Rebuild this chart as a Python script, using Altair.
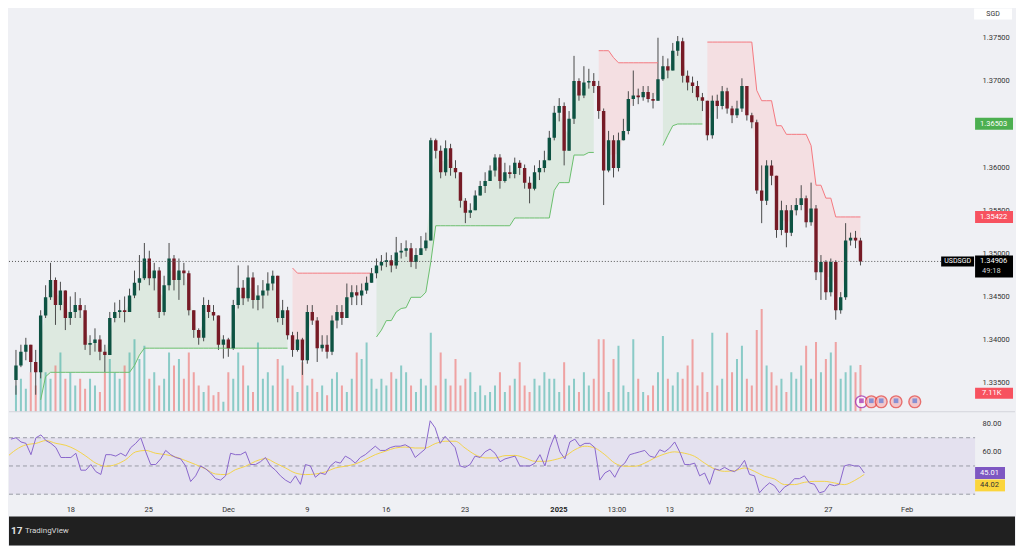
import altair as alt
import pandas as pd

# ---------------- data ----------------
FIRST_OPEN = 1.3353
CLOSE = [
    1.3370, 1.3386, 1.3394, 1.3374, 1.3362, 1.3428, 1.3449, 1.3469, 1.3440, 1.3457,
    1.3425, 1.3432, 1.3440, 1.3434, 1.3394, 1.3396, 1.3400, 1.3386, 1.3382, 1.3425,
    1.3432, 1.3434, 1.3432, 1.3451, 1.3466, 1.3471, 1.3494, 1.3471, 1.3480, 1.3432,
    1.3463, 1.3494, 1.3469, 1.3480, 1.3477, 1.3434, 1.3411, 1.3402, 1.3440, 1.3432,
    1.3428, 1.3394, 1.3400, 1.3390, 1.3440, 1.3460, 1.3448, 1.3472, 1.3446, 1.3451,
    1.3457, 1.3465, 1.3474, 1.3425, 1.3434, 1.3405, 1.3388, 1.3400, 1.3376, 1.3432,
    1.3422, 1.3390, 1.3394, 1.3386, 1.3422, 1.3432, 1.3425, 1.3449, 1.3455, 1.3451,
    1.3457, 1.3466, 1.3477, 1.3486, 1.3490, 1.3492, 1.3486, 1.3501, 1.3503, 1.3506,
    1.3490, 1.3498, 1.3506, 1.3515, 1.3631, 1.3619, 1.3594, 1.3622, 1.3599, 1.3594,
    1.3561, 1.3547, 1.3550, 1.3567, 1.3578, 1.3584, 1.3596, 1.3611, 1.3584, 1.3594,
    1.3592, 1.3605, 1.3599, 1.3582, 1.3575, 1.3594, 1.3599, 1.3608, 1.3634, 1.3663,
    1.3671, 1.3619, 1.3656, 1.3700, 1.3683, 1.3698, 1.3700, 1.3694, 1.3665, 1.3596,
    1.3631, 1.3599, 1.3631, 1.3642, 1.3679, 1.3683, 1.3681, 1.3687, 1.3679, 1.3677,
    1.3702, 1.3717, 1.3712, 1.3735, 1.3746, 1.3706, 1.3698, 1.3694, 1.3681, 1.3677,
    1.3637, 1.3677, 1.3671, 1.3688, 1.3668, 1.3660, 1.3668, 1.3694, 1.3660, 1.3652,
    1.3573, 1.3561, 1.3602, 1.3590, 1.3527, 1.3550, 1.3524, 1.3550, 1.3556, 1.3564,
    1.3536, 1.3552, 1.3478, 1.3490, 1.3455, 1.3490, 1.3434, 1.3449, 1.3515, 1.3518,
    1.3515, 1.34906,
]
HIGH = [
    1.3388, 1.3394, 1.3402, 1.3394, 1.3388, 1.3434, 1.3463, 1.3489, 1.3472, 1.3467,
    1.3457, 1.3450, 1.3455, 1.3448, 1.3440, 1.3405, 1.3413, 1.3405, 1.3394, 1.3432,
    1.3443, 1.3446, 1.3450, 1.3459, 1.3480, 1.3498, 1.3512, 1.3503, 1.3489, 1.3484,
    1.3474, 1.3512, 1.3498, 1.3494, 1.3489, 1.3480, 1.3434, 1.3413, 1.3449, 1.3446,
    1.3440, 1.3428, 1.3405, 1.3402, 1.3446, 1.3486, 1.3469, 1.3486, 1.3478, 1.3463,
    1.3469, 1.3478, 1.3480, 1.3474, 1.3446, 1.3438, 1.3409, 1.3409, 1.3402, 1.3440,
    1.3440, 1.3426, 1.3405, 1.3405, 1.3428, 1.3440, 1.3440, 1.3465, 1.3463, 1.3463,
    1.3465, 1.3473, 1.3483, 1.3494, 1.3498, 1.3501, 1.3498, 1.3519, 1.3512, 1.3515,
    1.3512, 1.3506, 1.3520, 1.3524, 1.3634, 1.3633, 1.3625, 1.3631, 1.3627, 1.3608,
    1.3594, 1.3564, 1.3558, 1.3573, 1.3584, 1.3594, 1.3602, 1.3615, 1.3615, 1.3605,
    1.3602, 1.3611, 1.3608, 1.3603, 1.3589, 1.3602, 1.3608, 1.3619, 1.3642, 1.3671,
    1.3680, 1.3675, 1.3665, 1.3729, 1.3703, 1.3717, 1.3714, 1.3709, 1.3700, 1.3668,
    1.3642, 1.3637, 1.3640, 1.3656, 1.3688, 1.3712, 1.3691, 1.3694, 1.3694, 1.3686,
    1.3750, 1.3729, 1.3726, 1.3744, 1.3752, 1.3750, 1.3712, 1.3705, 1.3700, 1.3686,
    1.3677, 1.3683, 1.3684, 1.3694, 1.3692, 1.3671, 1.3677, 1.3703, 1.3694, 1.3663,
    1.3655, 1.3602, 1.3608, 1.3608, 1.3590, 1.3561, 1.3556, 1.3556, 1.3564, 1.3579,
    1.3567, 1.3582, 1.3556, 1.3498, 1.3492, 1.3494, 1.3492, 1.3455, 1.3535, 1.3524,
    1.3526, 1.3518,
]
LOW = [
    1.3336, 1.3368, 1.3376, 1.3362, 1.3336, 1.3355, 1.3425, 1.3446, 1.3417, 1.3434,
    1.3411, 1.3417, 1.3425, 1.3425, 1.3388, 1.3382, 1.3386, 1.3376, 1.3362, 1.3382,
    1.3420, 1.3425, 1.3420, 1.3432, 1.3448, 1.3457, 1.3469, 1.3463, 1.3457, 1.3425,
    1.3428, 1.3457, 1.3457, 1.3446, 1.3463, 1.3428, 1.3402, 1.3394, 1.3398, 1.3425,
    1.3422, 1.3388, 1.3378, 1.3380, 1.3388, 1.3436, 1.3440, 1.3444, 1.3436, 1.3434,
    1.3436, 1.3451, 1.3457, 1.3420, 1.3417, 1.3400, 1.3380, 1.3386, 1.3359, 1.3372,
    1.3417, 1.3374, 1.3386, 1.3378, 1.3382, 1.3413, 1.3417, 1.3425, 1.3440, 1.3440,
    1.3440, 1.3453, 1.3466, 1.3471, 1.3480, 1.3484, 1.3478, 1.3482, 1.3494, 1.3496,
    1.3484, 1.3482, 1.3498, 1.3503, 1.3515, 1.3610, 1.3587, 1.3590, 1.3590, 1.3587,
    1.3553, 1.3535, 1.3541, 1.3550, 1.3567, 1.3570, 1.3584, 1.3589, 1.3575, 1.3582,
    1.3587, 1.3587, 1.3591, 1.3575, 1.3558, 1.3573, 1.3585, 1.3594, 1.3608, 1.3631,
    1.3653, 1.3602, 1.3619, 1.3650, 1.3677, 1.3680, 1.3691, 1.3686, 1.3656, 1.3556,
    1.3594, 1.3588, 1.3595, 1.3631, 1.3638, 1.3671, 1.3673, 1.3677, 1.3675, 1.3668,
    1.3677, 1.3700, 1.3703, 1.3712, 1.3729, 1.3698, 1.3689, 1.3686, 1.3677, 1.3665,
    1.3631, 1.3633, 1.3656, 1.3667, 1.3662, 1.3651, 1.3657, 1.3664, 1.3654, 1.3645,
    1.3569, 1.3535, 1.3556, 1.3579, 1.3518, 1.3521, 1.3507, 1.3520, 1.3544, 1.3550,
    1.3530, 1.3532, 1.3469, 1.3446, 1.3446, 1.3450, 1.3423, 1.3430, 1.3446, 1.3509,
    1.3506, 1.3486,
]
VOLUME_K = [
    4, 5, 3.5, 6, 4, 8, 6, 5, 7, 9,
    5, 6, 4, 5, 3.5, 5, 4, 3, 6, 8,
    6, 5, 7, 9, 11, 8, 10, 5, 6, 4,
    5, 9, 7, 8, 5, 9, 6, 4, 3, 4,
    2.5, 3, 1.5, 6, 5, 9, 7, 4, 3, 10.5,
    5, 6, 4, 8, 7, 5, 4, 3, 7.5, 4,
    5, 3, 4, 2.5, 5, 6, 4, 3, 5, 9,
    8, 10.5, 5, 3.5, 5, 4, 6, 5, 7, 6,
    4, 3, 5, 4, 12, 4, 9, 5, 4, 8,
    4, 5, 6, 3, 4, 2.5, 3, 4, 6, 3,
    4, 5, 7.5, 4, 3, 5, 4, 6, 5, 5,
    3, 7.5, 4, 5, 3, 6, 4, 5, 11, 11,
    3, 8, 10, 4, 3, 11, 5, 3, 2.5, 4,
    6, 11.5, 5, 4, 6, 5, 7, 11, 4, 6,
    3, 12, 4, 5, 12, 6, 8, 10, 5, 4,
    12.4, 15.6, 7, 6, 4, 5, 3, 6, 5, 7,
    10, 5, 10.6, 6, 8, 9, 10.6, 5, 6, 7,
    6, 7.11,
]
ST_GREEN = ([None] * 5 + [1.3330, 1.3357] + [1.3362] * 17 + [1.3370, 1.3382] + [1.3390] * 30
            + [None] * 17
            + [1.3403, 1.3411, 1.3422, 1.3422, 1.3432, 1.3436, 1.3437, 1.3449, 1.3449, 1.3449,
               1.3455, 1.3490, 1.3532] + [1.3532] * 15 + [1.3541] * 8 + [1.3573] + [1.3582] * 3
            + [1.3614] * 3 + [1.3617] * 2
            + [None] * 13
            + [1.3625, 1.3637, 1.3648] + [1.3650] * 6
            + [None] * 32)
ST_RED = ([None] * 56 + [1.3483] + [1.3477] * 16
          + [None] * 45
          + [1.3735] * 3 + [1.3727] + [1.3721] * 9
          + [None] * 9
          + [1.3745] * 10 + [1.3689] + [1.3677] * 3 + [1.3648] * 2 + [1.3638] * 5 + [1.3625]
          + [1.3579] * 2 + [1.3564] * 2 + [1.35422] * 6)
RSI = [
    69, 70, 67, 66, 58, 70, 72, 68, 66, 63,
    56, 56, 56, 59, 47, 47, 51, 46, 44, 58,
    58, 57, 59, 57, 63, 66, 70, 60, 51, 51,
    55, 61, 58, 56, 55, 50, 39, 43, 50, 48,
    45, 41, 40, 43, 59, 58, 58, 60, 51, 51,
    53, 56, 50, 47, 43, 40, 38, 43, 37, 51,
    50, 42, 45, 44, 50, 53, 52, 57, 55, 52,
    56, 58, 61, 64, 61, 61, 63, 64, 64, 65,
    63, 56, 59, 62, 82, 77, 66, 71, 67, 63,
    50, 49, 51, 57, 56, 60, 62, 59, 53, 55,
    56, 57, 50, 50, 50, 52, 58, 50, 63, 72,
    60, 55, 67, 69, 64, 66, 66, 63, 40, 45,
    47, 42, 49, 52, 58, 59, 60, 61, 57, 56,
    61.5, 60, 62.7, 67, 60, 51, 51, 52, 43, 45,
    37, 48, 47, 49, 47, 46, 49, 54, 44, 43,
    31, 35, 38, 36, 31, 35, 37, 41, 41, 43,
    38, 37, 31, 32, 37, 36, 37, 50, 51, 50,
    50, 45.01,
]
RSI_MA = [
    55.7, 61.5, 65, 66, 68, 66, 64.6, 61.5, 57, 52,
    49.8, 51, 54.5, 60, 61, 59, 58, 56.4, 53.8, 51,
    47.9, 44.3, 43.9, 47.4, 49.8, 53.3, 55.2, 52, 48.6, 45,
    43.9, 44.3, 45.8, 48.6, 49.8, 51.4, 54.5, 58, 60.4, 62.7,
    63.4, 62.7, 62.7, 65.8, 67.5, 67.5, 62.7, 58, 55.7, 55.7,
    57.3, 57.5, 55.7, 53.3, 53.3, 54.5, 56.8, 61.5, 64, 62.7,
    58, 52, 49.8, 49.8, 52, 55.7, 58.5, 60, 59, 56.8,
    52, 47.9, 46.2, 46.6, 48.6, 46.2, 42.7, 40.8, 36.8, 36.8,
    38.4, 39.1, 39.1, 38, 36.8, 39.6, 44.02,
]
DATE_POS = [12, 27.6, 43.6, 59.4, 75.2, 91, 121.4, 132, 148, 163.8, 179.6]
DATE_LABELS = ["18", "25", "Dec", "9", "16", "23", "13:00", "13", "20", "27", "Feb"]
YEAR_POS = [109.8]
YEAR_LABELS = ["2025"]
# 1.36500 is hidden under the green tag in the reference
PRICE_TICKS = [1.335, 1.340, 1.345, 1.350, 1.355, 1.360, 1.370, 1.375]
LAST_PRICE = 1.34906
GREEN_TAG = 1.36503
RED_TAG = 1.35422
RSI_LAST = 45.01
RSI_MA_LAST = 44.02
EVENT_POS = [171.2, 173.2, 175.2, 178.2, 182.0]
EVENT_KIND = ["lightning", "us", "us", "us", "us"]

# ---------------- layout constants ----------------
W = 968          # plot width
AXW = 40         # right scale column
H_PRICE = 404
H_RSI = 105
H_FOOT = 29
BG = "#eff0f4"
FONT = "Roboto"
TXT = "#333333"

n = len(CLOSE)
opens = [FIRST_OPEN] + CLOSE[:-1]
df = pd.DataFrame({
    "i": list(range(n)),
    "open": opens,
    "close": CLOSE,
    "high": HIGH,
    "low": LOW,
    "vol": VOLUME_K,
    "rsi": RSI,
})
df["mid"] = (df["open"] + df["close"]) / 2
up = [c >= o for o, c in zip(opens, CLOSE)]
df["body_col"] = ["#0d5242" if u else "#761b26" for u in up]
df["vol_col"] = ["#26a69a" if u else "#ef5350" for u in up]


def segments(values):
    rows, seg, prev = [], 0, None
    for i, v in enumerate(values):
        if v is not None:
            if prev is None:
                seg += 1
            rows.append({"i": i, "st": v, "mid": df.loc[i, "mid"], "seg": seg})
        prev = v
    return pd.DataFrame(rows)


df_g = segments(ST_GREEN)
df_r = segments(ST_RED)

df_ma = pd.DataFrame({"i": [-1 + 2 * k for k in range(len(RSI_MA))], "ma": RSI_MA})

xs = alt.Scale(domain=[-0.4, 193.2], nice=False, zero=False)
X = alt.X("i:Q", scale=xs, axis=None)
ps = alt.Scale(domain=[1.33163, 1.37839], nice=False, zero=False)
price_axis = alt.Axis(orient="right", values=PRICE_TICKS, format=".5f", labelFontSize=7.5,
                      labelColor=TXT, labelFont=FONT, ticks=False, domain=False, grid=False,
                      labelPadding=7, labelOverlap=False, labelFlush=False, title=None)


def YP(f, axis=price_axis):
    return alt.Y(f, type="quantitative", scale=ps, axis=axis)


# ---- fills (supertrend) ----
fill_g = alt.Chart(df_g).mark_area(color="#dde9e0", clip=True).encode(
    x=X, y=YP("st", None), y2=alt.Y2("mid"), detail="seg:N")
fill_r = alt.Chart(df_r).mark_area(color="#f4dfe2", clip=True).encode(
    x=X, y=YP("st", None), y2=alt.Y2("mid"), detail="seg:N")
fills = alt.layer(fill_g, fill_r)

# ---- volume ----
vol = alt.Chart(df).mark_bar(size=2, opacity=0.5, clip=True).encode(
    x=X,
    y=alt.Y("vol:Q", scale=alt.Scale(domain=[0, H_PRICE / 6.6], nice=False, zero=True), axis=None),
    color=alt.Color("vol_col:N", scale=None),
)

# ---- candles and overlays ----
line_g = alt.Chart(df_g).mark_line(color="#6abf6d", strokeWidth=1, clip=True).encode(
    x=X, y=YP("st"), detail="seg:N")
line_r = alt.Chart(df_r).mark_line(color="#f47880", strokeWidth=1, clip=True).encode(
    x=X, y=YP("st"), detail="seg:N")

wicks = alt.Chart(df).mark_rule(color="#4a4a4a", strokeWidth=1, clip=True).encode(
    x=X, y=YP("low"), y2=alt.Y2("high"))
bodies = alt.Chart(df).mark_bar(size=3.4, clip=True).encode(
    x=X, y=YP("open"), y2=alt.Y2("close"),
    color=alt.Color("body_col:N", scale=None),
)

df_last = pd.DataFrame({"p": [LAST_PRICE]})
last_rule = alt.Chart(df_last).mark_rule(color="#555555", strokeDash=[1, 2], strokeWidth=1).encode(
    y=YP("p"), x=alt.value(0), x2=alt.value(W))

tags = pd.DataFrame({
    "p": [GREEN_TAG, RED_TAG],
    "label": ["1.36503", "1.35422"],
    "bg": ["#4caf50", "#f7525f"],
})
tag_box = alt.Chart(tags).mark_rect(yOffset=-6, y2Offset=6, clip=False).encode(
    y=YP("p"), y2=alt.Y2("p"), x=alt.value(W), x2=alt.value(W + 38),
    color=alt.Color("bg:N", scale=None))
tag_txt = alt.Chart(tags).mark_text(align="left", baseline="middle", fontSize=7.5, font=FONT,
                                    color="white", clip=False).encode(
    y=YP("p"), x=alt.value(W + 5), text="label:N")

cur = pd.DataFrame({"p": [LAST_PRICE], "label": ["1.34906"], "timer": ["49:18"], "sym": ["USDSGD"]})
cur_box = alt.Chart(cur).mark_rect(color="#000000", yOffset=-6, y2Offset=16, clip=False).encode(
    y=YP("p"), y2=alt.Y2("p"), x=alt.value(W), x2=alt.value(W + 38))
cur_txt = alt.Chart(cur).mark_text(align="left", baseline="middle", fontSize=7.5, font=FONT,
                                   color="white", clip=False).encode(
    y=YP("p"), x=alt.value(W + 5), text="label:N")
cur_timer = alt.Chart(cur).mark_text(align="left", baseline="middle", fontSize=7.5, font=FONT,
                                     color="#d0d0d0", dy=10, clip=False).encode(
    y=YP("p"), x=alt.value(W + 7), text="timer:N")
sym_box = alt.Chart(cur).mark_rect(color="#000000", yOffset=-5, y2Offset=5, clip=False).encode(
    y=YP("p"), y2=alt.Y2("p"), x=alt.value(W - 34), x2=alt.value(W - 1))
sym_txt = alt.Chart(cur).mark_text(align="center", baseline="middle", fontSize=7, font=FONT,
                                   color="white", clip=False).encode(
    y=YP("p"), x=alt.value(W - 17.5), text="sym:N")

vol_tag = pd.DataFrame({"label": ["7.11K"]})
vol_box = alt.Chart(vol_tag).mark_rect(color="#f7525f", clip=False).encode(
    x=alt.value(W), x2=alt.value(W + 38), y=alt.value(380), y2=alt.value(391))
vol_txt = alt.Chart(vol_tag).mark_text(align="left", baseline="middle", fontSize=7.5, font=FONT,
                                       color="white", clip=False).encode(
    x=alt.value(W + 7), y=alt.value(385.5), text="label:N")

cur_tag = pd.DataFrame({"label": ["SGD"]})
cur_hdr = alt.Chart(cur_tag).mark_rect(color="#ffffff", clip=False).encode(
    x=alt.value(W - 1), x2=alt.value(W + 37), y=alt.value(0), y2=alt.value(11))
cur_hdr_txt = alt.Chart(cur_tag).mark_text(align="center", baseline="middle", fontSize=7, font=FONT,
                                           color=TXT, clip=False).encode(
    x=alt.value(W + 18), y=alt.value(5.5), text="label:N")

ev = pd.DataFrame({"i": EVENT_POS, "kind": EVENT_KIND,
                   "ring": ["#9c27b0", "#e53935", "#e53935", "#e53935", "#e53935"],
                   "face": ["#ffffff", "#f4b7bb", "#f4b7bb", "#f4b7bb", "#f4b7bb"],
                   "inner": ["#9c27b0", "#5b7bd5", "#5b7bd5", "#5b7bd5", "#5b7bd5"]})
events = alt.Chart(ev).mark_point(filled=True, size=140, strokeWidth=1.4, clip=False).encode(
    x=X, y=alt.value(394),
    fill=alt.Fill("face:N", scale=None),
    stroke=alt.Stroke("ring:N", scale=None),
)
events_in = alt.Chart(ev).mark_point(filled=True, size=22, shape="square", clip=False).encode(
    x=X, y=alt.value(393),
    fill=alt.Fill("inner:N", scale=None),
)

top = alt.layer(wicks, line_g, line_r, bodies, last_rule,
                tag_box, tag_txt, sym_box, sym_txt, cur_box, cur_txt, cur_timer,
                vol_box, vol_txt, cur_hdr, cur_hdr_txt, events, events_in)

price_panel = alt.layer(fills, vol, top).resolve_scale(y="independent").properties(
    width=W, height=H_PRICE)

# ---------------- RSI panel ----------------
rs = alt.Scale(domain=[14.2, 88.4], nice=False, zero=False)
rsi_axis = alt.Axis(orient="right", values=[60, 80], format=".2f", labelFontSize=7.5,
                    labelColor=TXT, labelFont=FONT, ticks=False, domain=False, grid=False,
                    labelPadding=7, title=None)
band_df = pd.DataFrame({"lo": [30], "hi": [70]})
band = alt.Chart(band_df).mark_rect(color="#e4e1ef").encode(
    x=alt.value(0), x2=alt.value(W),
    y=alt.Y("lo:Q", scale=rs, axis=rsi_axis), y2=alt.Y2("hi"))
lvl_df = pd.DataFrame({"lvl": [30, 50, 70]})
levels = alt.Chart(lvl_df).mark_rule(color="#9a9ca6", strokeDash=[4, 3], strokeWidth=1).encode(
    x=alt.value(0), x2=alt.value(W), y=alt.Y("lvl:Q", scale=rs, axis=rsi_axis))
rsi_line = alt.Chart(df).mark_line(color="#8a66cc", strokeWidth=1, clip=True).encode(
    x=X, y=alt.Y("rsi:Q", scale=rs, axis=rsi_axis))
ma_line = alt.Chart(df_ma).mark_line(color="#f3d34a", strokeWidth=1, clip=True, interpolate="monotone").encode(
    x=X, y=alt.Y("ma:Q", scale=rs, axis=rsi_axis))

rt = pd.DataFrame({"v": [RSI_LAST, RSI_MA_LAST], "label": ["45.01", "44.02"],
                   "bg": ["#7e57c2", "#fbd53c"], "fg": ["#ffffff", "#333333"]})
rt_box_a = alt.Chart(rt.iloc[[0]]).mark_rect(yOffset=-6, y2Offset=6, clip=False).encode(
    y=alt.Y("v:Q", scale=rs, axis=rsi_axis), y2=alt.Y2("v"), x=alt.value(W), x2=alt.value(W + 30),
    color=alt.Color("bg:N", scale=None))
rt_txt_a = alt.Chart(rt.iloc[[0]]).mark_text(align="left", baseline="middle", fontSize=7.5, font=FONT,
                                             clip=False).encode(
    y=alt.Y("v:Q", scale=rs, axis=rsi_axis), x=alt.value(W + 5), text="label:N",
    color=alt.Color("fg:N", scale=None))
rt_box_b = alt.Chart(rt.iloc[[1]]).mark_rect(yOffset=5, y2Offset=17, clip=False).encode(
    y=alt.Y("v:Q", scale=rs, axis=rsi_axis), y2=alt.Y2("v"), x=alt.value(W), x2=alt.value(W + 30),
    color=alt.Color("bg:N", scale=None))
rt_txt_b = alt.Chart(rt.iloc[[1]]).mark_text(align="left", baseline="middle", fontSize=7.5, font=FONT,
                                             dy=11, clip=False).encode(
    y=alt.Y("v:Q", scale=rs, axis=rsi_axis), x=alt.value(W + 5), text="label:N",
    color=alt.Color("fg:N", scale=None))

dates = pd.DataFrame({"i": DATE_POS, "label": DATE_LABELS})
date_txt = alt.Chart(dates).mark_text(align="center", baseline="middle", fontSize=7.5, font=FONT,
                                      color=TXT).encode(x=X, y=alt.value(98), text="label:N")
years = pd.DataFrame({"i": YEAR_POS, "label": YEAR_LABELS})
year_txt = alt.Chart(years).mark_text(align="center", baseline="middle", fontSize=7.5, font=FONT,
                                      fontWeight="bold", color="#222222").encode(
    x=X, y=alt.value(98), text="label:N")
sep = alt.Chart(pd.DataFrame({"a": [0]})).mark_rule(color="#d4d5db", strokeWidth=1, clip=False).encode(
    x=alt.value(0), x2=alt.value(W + AXW), y=alt.value(0))

rsi_panel = alt.layer(band, levels, ma_line, rsi_line, rt_box_a, rt_txt_a, rt_box_b, rt_txt_b,
                      date_txt, year_txt, sep).properties(width=W, height=H_RSI)

# ---------------- footer ----------------
foot_df = pd.DataFrame({"logo": ["17"], "name": ["TradingView"]})
foot_bg = alt.Chart(foot_df).mark_rect(color="#202020").encode(
    x=alt.value(0), x2=alt.value(W + AXW), y=alt.value(0), y2=alt.value(H_FOOT))
foot_logo = alt.Chart(foot_df).mark_text(align="left", baseline="middle", fontSize=10, font=FONT,
                                         fontWeight="bold", color="#e0e0e0").encode(
    x=alt.value(2), y=alt.value(15), text="logo:N")
foot_name = alt.Chart(foot_df).mark_text(align="left", baseline="middle", fontSize=8, font=FONT,
                                         color="#d8d8d8").encode(
    x=alt.value(16), y=alt.value(15), text="name:N")
footer = alt.layer(foot_bg, foot_logo, foot_name).properties(width=W + AXW, height=H_FOOT)

chart = alt.vconcat(price_panel, rsi_panel, footer, spacing=0, bounds="flush").properties(
    padding=0
).configure(background=BG, font=FONT).configure_view(stroke=None)

chart.save("out.html", embed_options={"renderer": "svg", "actions": False})
